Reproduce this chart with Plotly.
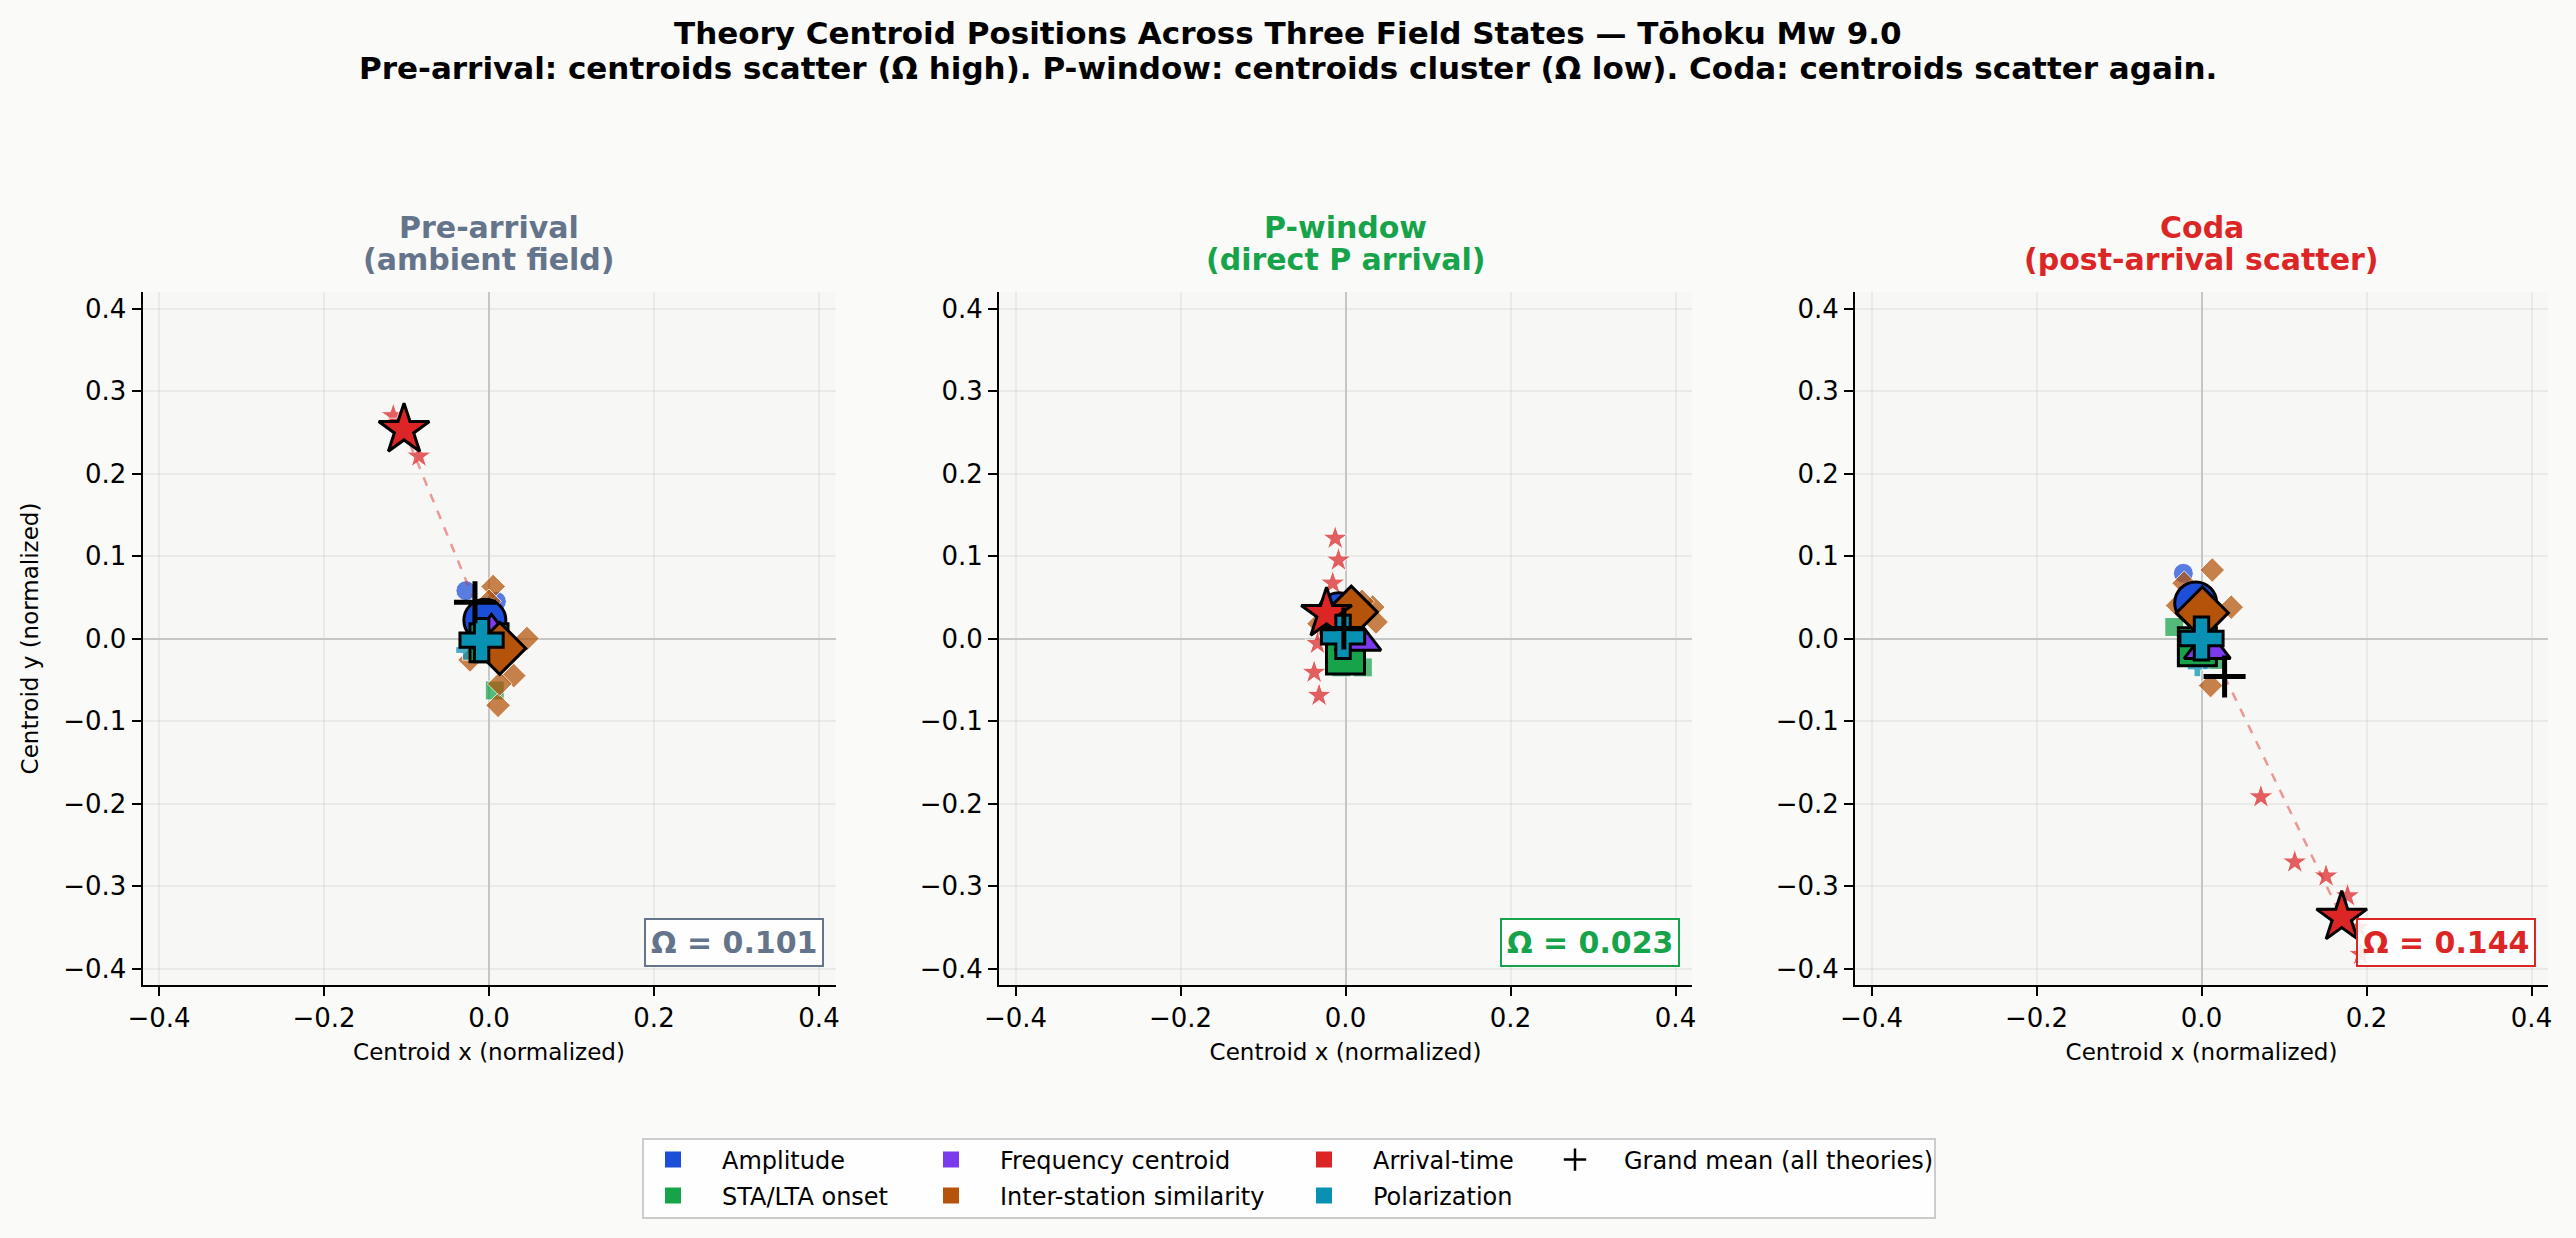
import plotly.graph_objects as go

# ---------------- data ----------------
THEORIES = ["Amplitude", "STA/LTA onset", "Frequency centroid",
            "Inter-station similarity", "Arrival-time", "Polarization"]
COLORS = ["#1d4ed8", "#16a34a", "#7c3aed", "#b45309", "#dc2626", "#0891b2"]
SYMBOLS = ["circle", "square", "triangle-up", "diamond", "star", "cross"]

TITLE_LINES = ["Theory Centroid Positions Across Three Field States — Tōhoku Mw 9.0",
               "Pre-arrival: centroids scatter (Ω high). P-window: centroids cluster (Ω low). "
               "Coda: centroids scatter again."]
STATE_NAMES = ["Pre-arrival", "P-window", "Coda"]
STATE_SUBS = ["(ambient field)", "(direct P arrival)", "(post-arrival scatter)"]
STATE_COLORS = ["#64748b", "#16a34a", "#dc2626"]
OMEGA = [0.101, 0.023, 0.144]

# per-window sample centroids (theory order as THEORIES)
PRE_SAMPLES_X = [
    [-0.028, 0.009, 0.000, -0.010, 0.004],
    [0.007, -0.015, 0.010, -0.008, 0.006],
    [0.008, 0.000, -0.003, 0.007],
    [0.005, 0.046, -0.023, 0.030, 0.011, 0.013, 0.000],
    [-0.116, -0.108, -0.100, -0.095, -0.085],
    [-0.028, -0.005, 0.000, -0.010],
]
PRE_SAMPLES_Y = [
    [0.058, 0.045, 0.010, 0.000, -0.003],
    [-0.063, 0.012, 0.020, 0.000, 0.006],
    [0.018, -0.010, 0.010, 0.002],
    [0.063, 0.000, -0.026, -0.045, -0.081, -0.055, 0.045],
    [0.270, 0.262, 0.256, 0.250, 0.221],
    [-0.014, 0.005, -0.010, 0.008],
]
PW_SAMPLES_X = [
    [-0.010, 0.000, -0.015, -0.005],
    [-0.005, 0.021, 0.000, -0.010],
    [0.020, 0.010, 0.015],
    [0.033, 0.037, -0.032, 0.020, 0.000],
    [-0.0125, -0.0085, -0.0155, -0.034, -0.038, -0.032, -0.025],
    [-0.005, 0.000, -0.008],
]
PW_SAMPLES_Y = [
    [0.040, 0.025, 0.028, 0.030],
    [-0.035, -0.035, -0.015, -0.010],
    [0.000, -0.010, 0.005],
    [0.038, 0.020, 0.018, 0.045, 0.040],
    [0.1215, 0.095, 0.067, -0.006, -0.041, -0.069, 0.030],
    [0.005, -0.005, 0.000],
]
CODA_SAMPLES_X = [
    [-0.022, -0.010, 0.000, 0.005],
    [-0.033, 0.017, -0.010, 0.000, -0.010],
    [0.010, 0.000, 0.012],
    [0.013, 0.036, -0.029, -0.021, 0.011],
    [0.072, 0.113, 0.151, 0.177, 0.190, 0.193],
    [-0.005, 0.005, -0.010, 0.000],
]
CODA_SAMPLES_Y = [
    [0.079, 0.050, 0.030, 0.020],
    [0.014, -0.026, -0.020, -0.010, -0.005],
    [-0.015, -0.010, -0.012],
    [0.083, 0.038, 0.040, 0.067, -0.057],
    [-0.192, -0.271, -0.288, -0.312, -0.350, -0.383],
    [-0.034, -0.025, -0.020, 0.000],
]

# theory centroids per window
PRE_CENT_X = [-0.005, 0.000, 0.003, 0.013, -0.103, -0.009]
PRE_CENT_Y = [0.022, -0.005, 0.005, -0.012, 0.253, -0.002]
PW_CENT_X = [-0.008, 0.000, 0.015, 0.007, -0.023, -0.003]
PW_CENT_Y = [0.030, -0.020, -0.002, 0.032, 0.030, 0.002]
CODA_CENT_X = [-0.007, -0.005, 0.007, 0.001, 0.170, 0.000]
CODA_CENT_Y = [0.043, -0.010, -0.012, 0.031, -0.338, 0.000]

# grand mean of all theories
GRAND_X = [-0.017, -0.002, 0.028]
GRAND_Y = [0.044, 0.012, -0.046]

SAMPLES_X = [PRE_SAMPLES_X, PW_SAMPLES_X, CODA_SAMPLES_X]
SAMPLES_Y = [PRE_SAMPLES_Y, PW_SAMPLES_Y, CODA_SAMPLES_Y]
CENT_X = [PRE_CENT_X, PW_CENT_X, CODA_CENT_X]
CENT_Y = [PRE_CENT_Y, PW_CENT_Y, CODA_CENT_Y]

AX_TICKS_X = [-0.4, -0.2, 0.0, 0.2, 0.4]
AX_TICKS_Y = [-0.4, -0.3, -0.2, -0.1, 0.0, 0.1, 0.2, 0.3, 0.4]

# ---------------- styling ----------------
W, H = 2576, 1238
FONT = "DejaVu Sans"
SMALL_SIZE = [20, 19, 20, 19, 19, 17]
BIG_SIZE = [42, 38, 40, 40, 38, 36]
DOMAINS_X = [(142.5 / W, 835.5 / W), (999 / W, 1692 / W), (1855 / W, 2548 / W)]
DOMAIN_Y = (1 - 985 / H, 1 - 292 / H)

fig = go.Figure()

for p in range(3):
    xa = "x" if p == 0 else f"x{p+1}"
    ya = "y" if p == 0 else f"y{p+1}"
    for t in range(6):
        fig.add_trace(go.Scatter(
            x=SAMPLES_X[p][t], y=SAMPLES_Y[p][t], mode="markers",
            xaxis=xa, yaxis=ya, showlegend=False, hoverinfo="skip",
            marker=dict(symbol=SYMBOLS[t], size=SMALL_SIZE[t], color=COLORS[t],
                        opacity=0.72, line=dict(color="white", width=1))))
    fig.add_trace(go.Scatter(
        x=[GRAND_X[p], CENT_X[p][4]], y=[GRAND_Y[p], CENT_Y[p][4]],
        mode="lines", xaxis=xa, yaxis=ya, showlegend=False, hoverinfo="skip",
        line=dict(color="rgba(220,38,38,0.45)", width=2.5, dash="dash")))
    for t in range(6):
        fig.add_trace(go.Scatter(
            x=[CENT_X[p][t]], y=[CENT_Y[p][t]], mode="markers",
            xaxis=xa, yaxis=ya, showlegend=False, name=THEORIES[t],
            marker=dict(symbol=SYMBOLS[t], size=BIG_SIZE[t], color=COLORS[t],
                        line=dict(color="black", width=3))))
    fig.add_trace(go.Scatter(
        x=[GRAND_X[p]], y=[GRAND_Y[p]], mode="markers",
        xaxis=xa, yaxis=ya, showlegend=False, name="Grand mean",
        marker=dict(symbol="cross-thin", size=30, color="black",
                    line=dict(color="black", width=5))))

# legend entries: 4 columns filled top-to-bottom
LEG_POS = [(624, 1160), (624, 1196), (902, 1160), (902, 1196), (1275, 1160), (1275, 1196)]
for t in range(6):
    lname = "legend" if t == 0 else f"legend{t+1}"
    fig.add_trace(go.Scatter(
        x=[None], y=[None], mode="markers", name=THEORIES[t], legend=lname,
        showlegend=True, marker=dict(symbol="square", size=16, color=COLORS[t])))
fig.add_trace(go.Scatter(
    x=[None], y=[None], mode="markers", name="Grand mean (all theories)",
    legend="legend7", showlegend=True,
    marker=dict(symbol="cross-thin", size=16, color="black",
                line=dict(color="black", width=2.5))))
LEG_POS.append((1526, 1160))

layout = dict(
    width=W, height=H,
    margin=dict(l=0, r=0, t=0, b=0),
    paper_bgcolor="#fafaf8", plot_bgcolor="#f7f7f5",
    font=dict(family=FONT, color="black", size=22),
)
for k, (lx, ly) in enumerate(LEG_POS):
    lname = "legend" if k == 0 else f"legend{k+1}"
    layout[lname] = dict(x=lx / W, y=1 - ly / H, xanchor="left", yanchor="middle",
                         xref="paper", yref="paper", bgcolor="rgba(0,0,0,0)",
                         borderwidth=0, itemwidth=88,
                         font=dict(size=24, family=FONT, color="black"))

annotations = []
for i, (line, yc) in enumerate(zip(TITLE_LINES, [33, 68])):
    annotations.append(dict(text=f"<b>{line}</b>", xref="paper", yref="paper",
                            x=0.5, y=1 - yc / H, xanchor="center", yanchor="middle",
                            showarrow=False, font=dict(size=31, family=FONT, color="black")))

for p in range(3):
    xk = "xaxis" if p == 0 else f"xaxis{p+1}"
    yk = "yaxis" if p == 0 else f"yaxis{p+1}"
    ya = "y" if p == 0 else f"y{p+1}"
    xa = "x" if p == 0 else f"x{p+1}"
    common = dict(
        range=[-0.42, 0.42], tickformat=".1f", automargin=False,
        showline=True, linecolor="black", linewidth=2,
        ticks="outside", ticklen=9, tickwidth=2, tickcolor="black",
        tickfont=dict(size=26, family=FONT),
        showgrid=True, gridcolor="rgba(0,0,0,0.05)", gridwidth=1.5,
        zeroline=True, zerolinecolor="#c6c6c6", zerolinewidth=2)
    layout[xk] = dict(domain=list(DOMAINS_X[p]), anchor=ya, tickvals=AX_TICKS_X,
                      title=dict(text="Centroid x (normalized)",
                                 font=dict(size=23, family=FONT), standoff=12),
                      **common)
    layout[yk] = dict(domain=list(DOMAIN_Y), anchor=xa, tickvals=AX_TICKS_Y, **common)
    if p == 0:
        layout[yk]["title"] = dict(text="Centroid y (normalized)",
                                   font=dict(size=23, family=FONT), standoff=18)
    xc = (DOMAINS_X[p][0] + DOMAINS_X[p][1]) / 2
    for txt, yc in ((STATE_NAMES[p], 227), (STATE_SUBS[p], 260)):
        annotations.append(dict(
            text=f"<b>{txt}</b>", xref="paper", yref="paper", x=xc, y=1 - yc / H,
            xanchor="center", yanchor="middle", showarrow=False,
            font=dict(size=30, family=FONT, color=STATE_COLORS[p])))
    annotations.append(dict(
        text=f"<b>Ω = {OMEGA[p]:.3f}</b>",
        xref=f"{xa} domain", yref=f"{ya} domain", x=0.983, y=0.026,
        xanchor="right", yanchor="bottom", showarrow=False,
        font=dict(size=30, family=FONT, color=STATE_COLORS[p]),
        bgcolor="rgba(255,255,255,0.88)", bordercolor=STATE_COLORS[p],
        borderwidth=2, borderpad=5))
layout["annotations"] = annotations
layout["shapes"] = [dict(type="rect", xref="paper", yref="paper",
                         x0=643 / W, x1=1935 / W, y0=1 - 1218 / H, y1=1 - 1139 / H,
                         line=dict(color="#cccccc", width=2),
                         fillcolor="rgba(255,255,255,0.8)", layer="below")]

fig.update_layout(**layout)
fig.write_html("out.html")
